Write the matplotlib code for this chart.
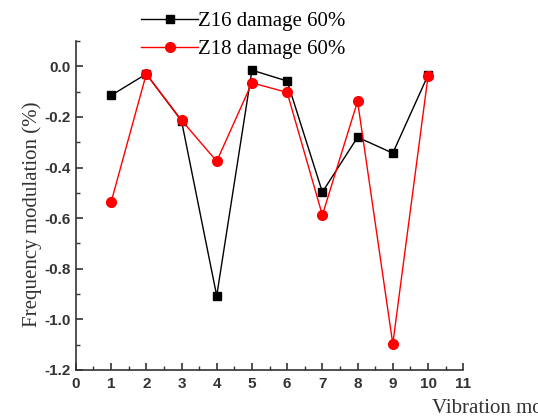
import numpy as np
import matplotlib.pyplot as plt
from matplotlib.ticker import MultipleLocator

modes = [1, 2, 3, 4, 5, 6, 7, 8, 9, 10]
z16 = [-0.115, -0.030, -0.215, -0.907, -0.015, -0.058, -0.497, -0.280, -0.343, -0.035]
z18 = [-0.537, -0.030, -0.213, -0.375, -0.065, -0.103, -0.588, -0.138, -1.097, -0.040]
yticks = [-1.2, -1.0, -0.8, -0.6, -0.4, -0.2, 0.0]

fig = plt.figure(figsize=(5.38, 4.19), dpi=100)
ax = fig.add_axes([0.141, 0.117, 0.720, 0.785])

ax.plot(modes, z16, color='black', marker='s', markersize=6, linewidth=1,
        label='Z16 damage 60%')
ax.plot(modes, z18, color='red', marker='o', markersize=7, linewidth=1,
        label='Z18 damage 60%')

ax.set_xlim(0, 11)
ax.set_ylim(-1.2, 0.1)
ax.xaxis.set_major_locator(MultipleLocator(1))
ax.xaxis.set_minor_locator(MultipleLocator(0.5))
ax.yaxis.set_minor_locator(MultipleLocator(0.1))
ax.set_yticks(yticks)
ax.set_yticklabels([f'{v:.1f}' for v in yticks])

for s in ['top', 'right']:
    ax.spines[s].set_visible(False)
for s in ['left', 'bottom']:
    ax.spines[s].set_linewidth(1.2)
    ax.spines[s].set_color('#333333')

ax.tick_params(which='major', direction='in', length=5, width=1.2,
               colors='#333333', labelsize=11)
ax.tick_params(which='minor', direction='in', length=3, width=1,
               colors='#333333')
ax.tick_params(axis='x', pad=5)
ax.tick_params(axis='y', pad=4)
for lab in ax.get_xticklabels() + ax.get_yticklabels():
    lab.set_fontfamily('Liberation Sans')
    lab.set_fontweight('bold')

ax.set_ylabel('Frequency modulation (%)', family='Liberation Serif',
              fontsize=15, color='#333333', va='center')
ax.yaxis.set_label_coords(-0.114, 0.474)
ax.set_xlabel('Vibration mode', family='Liberation Serif', fontsize=15,
              color='#333333', ha='left', va='center')
ax.xaxis.set_label_coords(0.92, -0.116)

ax.legend(loc='upper left', bbox_to_anchor=(0.262, 0.972),
          bbox_transform=fig.transFigure, frameon=False, borderpad=0,
          borderaxespad=0, handlelength=2.75, handletextpad=0,
          labelspacing=0.4, prop={'family': 'Liberation Serif', 'size': 15})

fig.savefig('out.png', dpi=100)
